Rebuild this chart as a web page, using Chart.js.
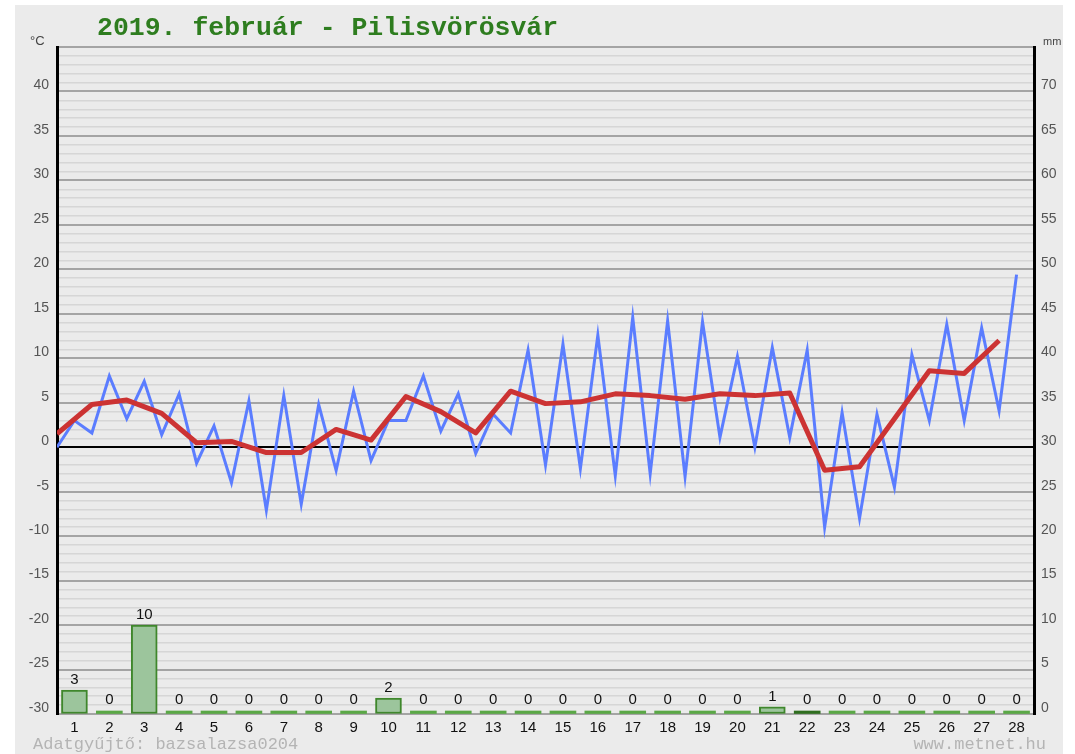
<!DOCTYPE html>
<html><head><meta charset="utf-8">
<script src="https://cdn.jsdelivr.net/npm/chart.js@4"></script>
<style>html,body{margin:0;padding:0;background:#fff}#wrap{width:1075px;height:754px}</style>
</head><body><div id="wrap"><canvas id="c" width="1075" height="754"></canvas></div>
<script>
const days = ['1','2','3','4','5','6','7','8','9','10','11','12','13','14','15','16','17','18','19','20','21','22','23','24','25','26','27','28'];
// temperature readings, two per day (day start and mid-day), °C
const tempReadings = [0.0,3.0, 1.6,8.0, 3.2,7.4, 1.4,6.0, -1.8,2.4, -4.0,5.2, -7.1,5.8, -6.4,4.8, -2.6,6.3,
  -1.5,3.0, 3.0,8.0, 1.8,6.0, -0.7,3.7, 1.6,10.9, -2.0,11.6, -2.4,12.6, -3.2,14.6, -3.0,14.2,
  -3.3,14.1, 1.1,10.2, 0.0,11.2, 1.1,10.9, -9.0,3.9, -8.0,3.7, -4.5,10.4, 3.0,13.8, 3.0,13.4, 4.1,19.4];
// daily mean temperature, °C
const tempMean = [1.5,4.8,5.3,3.8,0.5,0.65,-0.6,-0.6,2.0,0.8,5.7,4.0,1.6,6.3,4.9,5.1,6.0,5.8,5.4,6.0,5.8,6.1,-2.6,-2.2,3.2,8.6,8.3,12.0];
// daily precipitation, mm
const precip = [2.7,0,10.0,0,0,0,0,0,0,1.8,0,0,0,0,0,0,0,0,0,0,0.8,0.3,0,0,0,0,0,0];
const titleText = '2019. február - Pilisvörösvár';
const footerLeft = 'Adatgyűjtő: bazsalazsa0204';
const footerRight = 'www.metnet.hu';

const tickFont = {family:'Liberation Sans, Arial, sans-serif', size:14};

const overlay = {
  id:'overlay',
  beforeDraw(chart){
    const ctx = chart.ctx;
    ctx.save();
    ctx.fillStyle = '#ffffff';
    ctx.fillRect(0,0,chart.width,chart.height);
    ctx.fillStyle = '#ebebeb';
    ctx.fillRect(15,5,1048,749);
    ctx.restore();
  },
  afterDatasetsDraw(chart){
    const ctx = chart.ctx;
    const meta = chart.getDatasetMeta(0);
    ctx.save();
    ctx.font = '15px Liberation Sans, Arial, sans-serif';
    ctx.fillStyle = '#111';
    ctx.textAlign = 'center';
    ctx.textBaseline = 'bottom';
    meta.data.forEach((bar,i)=>{
      const top = Math.min(bar.y, bar.base - 3);
      ctx.fillText(String(Math.round(precip[i])), bar.x, top - 3);
    });
    ctx.restore();
  },
  afterDraw(chart){
    const ctx = chart.ctx;
    ctx.save();
    ctx.textBaseline = 'alphabetic';
    ctx.textAlign = 'left';
    ctx.font = 'bold 26.5px Liberation Mono, Courier New, monospace';
    ctx.fillStyle = '#2e7d1f';
    ctx.fillText(titleText, 97, 35);
    ctx.font = '13px Liberation Sans, Arial, sans-serif';
    ctx.fillStyle = '#444';
    ctx.fillText('°C', 30, 45);
    ctx.font = '11px Liberation Sans, Arial, sans-serif';
    ctx.fillText('mm', 1043, 45);
    ctx.font = '17px Liberation Mono, Courier New, monospace';
    ctx.fillStyle = '#b4b4b4';
    ctx.fillText(footerLeft, 33, 749);
    ctx.textAlign = 'right';
    ctx.fillText(footerRight, 1046, 749);
    ctx.restore();
  }
};

new Chart(document.getElementById('c'), {
  type:'bar',
  data: {
    labels: days,
    datasets: [
      {
        type:'bar', data: precip, xAxisID:'x', yAxisID:'y2', order:2, grouped:false,
        barThickness:26, minBarLength:3,
        backgroundColor: c => { const v = precip[c.dataIndex]; return v === 0 ? '#5aa846' : (v < 0.5 ? '#2f6e1f' : '#9cc59c'); },
        borderColor:'#3f872c',
        borderWidth: c => precip[c.dataIndex] >= 0.5 ? 2 : 0,
        borderSkipped:false
      },
      {
        type:'line', data: tempReadings.map((v,i)=>({x:i/2, y:v})), xAxisID:'xl', yAxisID:'y', order:1,
        borderColor:'#5b7dff', borderWidth:3, pointRadius:0, tension:0, fill:false
      },
      {
        type:'line', data: tempMean.map((v,i)=>({x:i, y:v})), xAxisID:'xl', yAxisID:'y', order:0,
        borderColor:'#cc3333', borderWidth:5, pointRadius:0, tension:0, fill:false, borderJoinStyle:'round'
      }
    ]
  },
  options: {
    responsive:false, animation:false, devicePixelRatio:1,
    layout:{padding:{top:47,left:0,right:0,bottom:0}},
    plugins:{legend:{display:false}, tooltip:{enabled:false}, title:{display:false}},
    scales:{
      x:{type:'category', offset:true, grid:{display:false, drawTicks:false}, border:{display:false},
         ticks:{color:'#111', font:{family:'Liberation Sans, Arial, sans-serif', size:15}, padding:5, autoSkip:false, maxRotation:0},
         afterFit:s=>{s.height=40;}},
      xl:{type:'linear', min:0, max:28, offset:false, grid:{offset:false}, display:false},
      y:{type:'linear', position:'left', min:-30, max:45,
         ticks:{stepSize:1, maxTicksLimit:200, autoSkip:false, color:'#555', font:tickFont, padding:8, labelOffset:-6,
                callback:v => (v % 5 === 0 && v < 45) ? String(v) : ''},
         grid:{drawTicks:false,
               color:c => c.tick.value === 0 ? '#000000' : (c.tick.value % 5 === 0 ? '#a4a4a4' : '#d6d6d6'),
               lineWidth:c => c.tick.value % 5 === 0 ? 2 : 1.5},
         border:{color:'#000', width:3},
         afterFit:s=>{s.width=57;}},
      y2:{type:'linear', position:'right', min:0, max:75,
          ticks:{stepSize:5, maxTicksLimit:100, autoSkip:false, color:'#555', font:tickFont, padding:7, labelOffset:-6,
                 callback:v => v < 75 ? String(v) : ''},
          grid:{drawOnChartArea:false, drawTicks:false},
          border:{color:'#000', width:3},
          afterFit:s=>{s.width=41;}}
    }
  },
  plugins:[overlay]
});
</script>
</body></html>
